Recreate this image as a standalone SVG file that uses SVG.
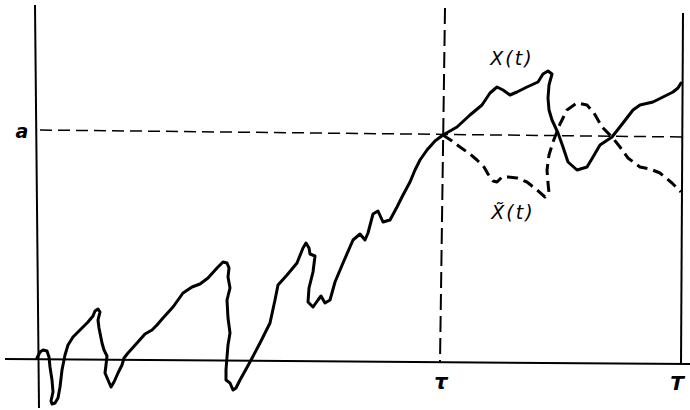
<svg xmlns="http://www.w3.org/2000/svg" width="690" height="410" viewBox="0 0 690 410">
<style>
.ax{stroke:#000;stroke-width:2;fill:none}
.dl{stroke:#000;stroke-width:1.5;fill:none;stroke-dasharray:12 6}
.dt{stroke:#000;stroke-width:2;fill:none;stroke-dasharray:16 6}
.cv{stroke:#000;stroke-width:3;fill:none;stroke-linejoin:round;stroke-linecap:round}
.cd{stroke:#000;stroke-width:3;fill:none;stroke-linejoin:round;stroke-dasharray:11 6}
.lb{font-family:"DejaVu Sans","Liberation Sans",sans-serif;font-style:italic;fill:#000}
</style>
<rect width="690" height="410" fill="#fff"/>
<g id="axes">
<line class="ax" x1="35" y1="5" x2="39" y2="408"/>
<line class="ax" x1="5" y1="359" x2="690" y2="364"/>
<line class="ax" x1="683" y1="13" x2="681" y2="364"/>
<line class="dl" x1="40" y1="130" x2="683" y2="137"/>
<line class="dt" x1="445" y1="8" x2="440" y2="362"/>
</g>
<g id="X">
<path class="cv" d="M37,358 L40,352 L43,350 L47,351 L49,357 L50,367 L52,380 L53,392 L51,401 L52,404 L55,403 L58,398 L60,387 L62,370 L65,355 L68,345 L73,337 L80,330 L88,322 L93,316 L95,311 L98,309 L100,312 L98,320 L99,328 L100,333 L102,343 L104,350 L107,356 L106,365 L105,373 L108,380 L111,387 L114,382 L118,373 L122,365 L124,358 L128,353 L137,343 L145,334 L152,330 L157,325 L163,318 L173,307 L183,293 L192,287 L200,284 L208,278 L217,268 L223,262 L227,263 L229,268 L228,277 L230,288 L227,300 L228,318 L230,333 L228,345 L227,357 L226,370 L226,380 L230,383 L233,390 L236,388 L240,380 L250,362 L260,343 L270,323 L275,300 L278,285 L287,275 L297,263 L303,248 L306,243 L309,248 L310,254 L315,256 L313,272 L309,288 L308,302 L313,307 L318,300 L321,296 L325,303 L330,300 L335,282 L343,263 L353,240 L360,234 L365,240 L368,233 L373,214 L378,211 L383,222 L390,220 L397,207 L403,195 L410,182 L415,170 L420,160 L427,150 L435,141 L443,135 L457,127 L470,115 L482,105 L490,93 L497,87 L503,90 L510,95 L517,92 L527,87 L538,82 L543,74 L548,71 L552,74 L549,85 L548,98 L549,110 L552,120 L558,133 L563,147 L568,162 L577,170 L587,167 L593,157 L600,145 L612,137 L623,123 L633,110 L640,105 L653,102 L663,97 L673,92 L678,88 L681,83"/>
</g>
<g id="Xtilde">
<path class="cd" d="M443,135 L452,141 L460,147 L470,154 L477,160 L484,167 L488,174 L493,181 L497,182 L502,177 L508,177 L517,178 L527,182 L537,190 L545,197 L549,193 L548,183 L547,170 L549,155 L553,142 L560,124 L567,110 L577,103 L587,105 L594,113 L602,127 L612,137 L620,147 L628,158 L640,167 L650,169 L660,173 L672,183 L681,192"/>
</g>
<g id="labels">
<text class="lb" x="22" y="138" font-size="19" font-weight="bold" text-anchor="middle">a</text>
<text class="lb" x="441" y="389" font-size="21" font-weight="bold" font-style="normal" text-anchor="middle">τ</text>
<text class="lb" x="677" y="390" font-size="20" font-weight="bold" text-anchor="middle">T</text>
<text class="lb" x="512" y="65" font-size="19" letter-spacing="2" text-anchor="middle">X(t)</text>
<text class="lb" x="513" y="219" font-size="19" letter-spacing="2" text-anchor="middle">X̃(t)</text>
</g>
</svg>
